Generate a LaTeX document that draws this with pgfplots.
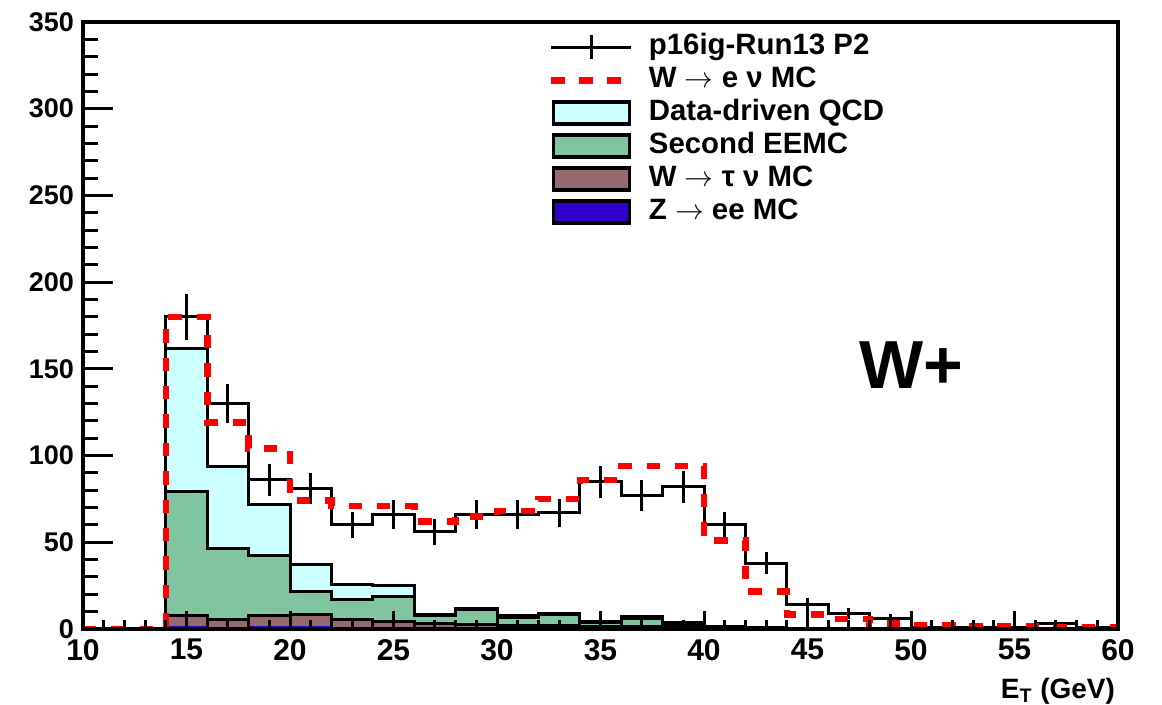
\documentclass[border=0pt]{standalone}
\usepackage{fontspec}
\setmainfont{Liberation Sans}
\usepackage{pgfplots}
\pgfplotsset{compat=1.18}
\usepackage{pgfplotstable}

\definecolor{qcdc}{RGB}{204,255,255}
\definecolor{eemcc}{RGB}{128,196,160}
\definecolor{wtauc}{RGB}{150,105,110}
\definecolor{zc}{RGB}{48,0,200}
\definecolor{mcred}{RGB}{255,0,0}

% data histogram (bin left edges, last row closes the final bin)
\pgfplotstableread{
x y
10 0
12 0
14 180
16 130
18 86
20 81
22 60
24 66
26 56
28 66
30 66
32 67
34 85
36 77
38 82
40 60
42 38
44 14
46 9
48 6
50 1
52 1
54 1
56 3
58 1
60 1
}\datahist

% data points with statistical errors (bin centres)
\pgfplotstableread{
x y e
15 180 13.4
17 130 11.4
19 86 9.3
21 81 9.0
23 60 7.7
25 66 8.1
27 56 7.5
29 66 8.1
31 66 8.1
33 67 8.2
35 85 9.2
37 77 8.8
39 82 9.1
41 60 7.7
43 38 6.2
45 14 3.7
47 9 3.0
49 6 2.4
51 1 1.0
53 1 1.0
55 1 1.0
57 3 1.7
59 1 1.0
}\datapts

% W -> e nu MC
\pgfplotstableread{
x y
10 0
12 0
14 180
16 119
18 104
20 74
22 71
24 71
26 62
28 65
30 68
32 75
34 86
36 94
38 94
40 51
42 21.5
44 8.5
46 5.8
48 3.3
50 2.3
52 1.7
54 1.3
56 1
58 1
60 1
}\mchist

% stacked backgrounds (cumulative heights)
\pgfplotstableread{
x tot eemc wtau z
10 0 0 0 0
12 0 0 0 0
14 161.5 79 8 1
16 93.5 46.4 5.5 0.3
18 71.5 42.6 8 1
20 37 21.5 8.5 1.3
22 25.7 17 5.5 0.5
24 25.3 18.5 4.5 0.3
26 8.5 7.5 3 0.2
28 12 11 2.5 0.2
30 7.5 6.5 2 0.1
32 9 8.5 2 0.1
34 4.5 3.5 1.5 0.1
36 7 6.3 1.5 0.1
38 3.5 2.5 1 0.1
40 1.5 1 0.8 0
42 1 0.5 0.5 0
44 0.5 0.3 0.3 0
46 0.3 0.2 0.2 0
48 0.2 0.1 0.1 0
50 0.1 0 0 0
52 0 0 0 0
54 0 0 0 0
56 0 0 0 0
58 0 0 0 0
60 0 0 0 0
}\stack

\begin{document}
\begin{tikzpicture}
\begin{axis}[
  at={(0,0)}, anchor=south west,
  scale only axis, width=517.5pt, height=303.5pt,
  xmin=10, xmax=60, ymin=0, ymax=350,
  axis on top,
  axis line style={line width=2pt},
  xtick=\empty,
  ytick={0,50,...,350}, minor y tick num=4, ytick pos=left,
  tick align=inside,
  major tick length=15pt, minor tick length=7.5pt,
  every tick/.style={black, line width=1.5pt},
  /pgf/number format/assume math mode=true,
  yticklabel style={font=\fontsize{13.5}{16}\selectfont\bfseries, xshift=-1pt},
  legend cell align=left,
  legend style={at={(0.443,0.993)}, anchor=north west, draw=none, fill=none,
    font=\fontsize{14.7}{16.5}\selectfont\bfseries,
    row sep=0pt,
    nodes={inner sep=1pt, text height=11pt, text depth=3.5pt},
    /tikz/every odd column/.append style={column sep=7pt}},
]
\addlegendimage{legend image code/.code={\draw[black,line width=1.5pt] (0pt,0pt)--(40pt,0pt) (20pt,-6pt)--(20pt,6pt);}}
\addlegendentry{p16ig-Run13 P2}
\addlegendimage{legend image code/.code={\draw[mcred,line width=3.5pt,dash pattern=on 7pt off 7pt] (0pt,0pt)--(36pt,0pt);}}
\addlegendentry{W $\rightarrow$ e ν MC}
\addlegendimage{legend image code/.code={\draw[fill=qcdc,draw=black,line width=1.8pt] (1pt,-5.5pt) rectangle (39pt,5.5pt);}}
\addlegendentry{Data-driven QCD}
\addlegendimage{legend image code/.code={\draw[fill=eemcc,draw=black,line width=1.8pt] (1pt,-5.5pt) rectangle (39pt,5.5pt);}}
\addlegendentry{Second EEMC}
\addlegendimage{legend image code/.code={\draw[fill=wtauc,draw=black,line width=1.8pt] (1pt,-5.5pt) rectangle (39pt,5.5pt);}}
\addlegendentry{W $\rightarrow$ τ ν MC}
\addlegendimage{legend image code/.code={\draw[fill=zc,draw=black,line width=1.8pt] (1pt,-5.5pt) rectangle (39pt,5.5pt);}}
\addlegendentry{Z $\rightarrow$ ee MC}

\addplot[const plot mark left, fill=qcdc, draw=black, line width=1.5pt, forget plot] table[x=x,y=tot] {\stack} \closedcycle;
\addplot[const plot mark left, fill=eemcc, draw=black, line width=1.5pt, forget plot] table[x=x,y=eemc] {\stack} \closedcycle;
\addplot[const plot mark left, fill=wtauc, draw=black, line width=1.5pt, forget plot] table[x=x,y=wtau] {\stack} \closedcycle;
\addplot[const plot mark left, fill=zc, draw=zc, line width=1pt, forget plot] table[x=x,y=z] {\stack} \closedcycle;

\addplot[const plot mark left, black, line width=1.5pt, forget plot] table[x=x,y=y] {\datahist};
\addplot[draw=none, mark=none, forget plot,
  error bars/.cd, y dir=both, y explicit, error mark=none,
  error bar style={line width=1.5pt, draw=black, solid}] table[x=x,y=y,y error=e] {\datapts};

\addplot[const plot mark left, mcred, line width=3.3pt, dash pattern=on 6.7pt off 7.5pt, forget plot] table[x=x,y=y] {\mchist};

\node[font=\fontsize{34}{40}\selectfont\bfseries] at (axis cs:50,152) {W+};
\end{axis}

\begin{axis}[
  at={(0,0)}, anchor=south west,
  scale only axis, width=517.5pt, height=303.5pt,
  xmin=10, xmax=60, ymin=0, ymax=350,
  hide y axis, axis x line*=bottom,
  axis line style={line width=2pt},
  xtick={10,15,...,60}, minor x tick num=4,
  tick align=inside,
  major tick length=9pt, minor tick length=4.5pt,
  every tick/.style={black, line width=1.5pt},
  /pgf/number format/assume math mode=true,
  xticklabel style={font=\fontsize{15}{17}\selectfont\bfseries, yshift=-1.5pt},
  xlabel={E\textsubscript{T} (GeV)},
  xlabel style={at={(axis description cs:1,0)}, anchor=north east,
    font=\fontsize{14}{16}\selectfont\bfseries, yshift=-21pt, xshift=2pt},
]
\end{axis}
\pgfresetboundingbox
\path[use as bounding box] (-41.5pt,-38pt) rectangle (539.5pt,314.5pt);
\end{tikzpicture}
\end{document}
